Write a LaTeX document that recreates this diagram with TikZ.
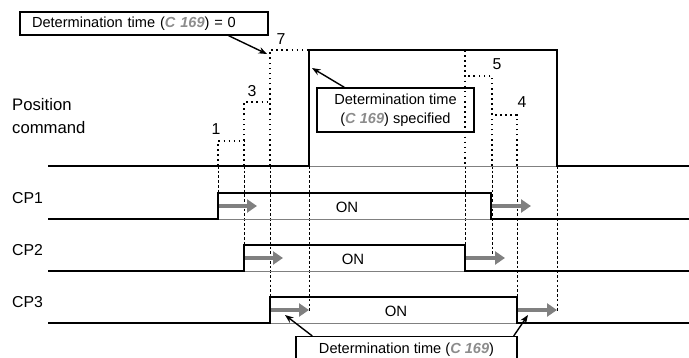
\documentclass[tikz,border=0pt]{standalone}
\usepackage{fontspec}
\setmainfont{Liberation Sans}
\usetikzlibrary{arrows.meta}
\definecolor{segcol}{gray}{0.55}
\definecolor{shiftcol}{gray}{0.5}
\newcommand{\segc}{{\color{segcol}\bfseries\itshape C 169}}
\begin{document}
\begin{tikzpicture}[x=0.02cm,y=-0.02cm,
   sig/.style={line width=1.2pt},
   sigbase/.style={shiftcol,line width=0.5pt},
   guide/.style={line width=0.4pt,dash pattern=on 1.5pt off 1.2pt},
   stepline/.style={line width=0.9pt,dotted},
   shiftarrow/.style={shiftcol,line width=2.8pt,-{Triangle[length=0.2cm,width=0.26cm]}},
   notebox/.style={draw,line width=0.8pt,inner sep=0pt,font=\fontsize{8.3}{11}\selectfont},
   pointer/.style={line width=0.8pt,-{Stealth[length=0.17cm,width=0.13cm]}},
   lbl/.style={font=\fontsize{9}{11}\selectfont}]
   \useasboundingbox (0,0) rectangle (689,358);
   % guides from the command edges down to the outputs
   \foreach \x/\e in {218/193, 244/245, 270/297, 309/312, 465/245, 492/256, 517/297, 557/312}
     \draw[guide] (\x,166) -- (\x,\e);
   % position command
   \draw[sigbase] (309,166) -- (557,166);
   \draw[sig] (48,166) -- (309,166) -- (309,50) -- (557,50) -- (557,166) -- (689,166);
   \foreach \a/\b/\h in {218/244/141, 244/270/102, 270/309/50}
     \draw[stepline] (\a,166) |- (\b,\h);
   \foreach \a/\b/\h in {465/492/76, 492/517/115}
     \draw[stepline] (\b,166) |- (\a,\h);
   \draw[stepline] (465,50) -- (465,166);
   \foreach \n/\x/\y in {1/216/129, 3/252/91, 7/281/39, 5/497/64, 4/522/102}
     \node[lbl] (n\n) at (\x,\y) {\n};
   \node[anchor=west,align=left,font=\fontsize{9.5}{13}\selectfont] (pos) at (6,116) {Position\\command};
   % outputs
   \foreach \n/\y/\r/\f/\o in {1/219/218/491/347, 2/271/244/465/353, 3/323/270/517/396}
   {
     \draw[sigbase] (\r,\y) -- (\f,\y);
     \draw[sig] (48,\y) -- (\r,\y) -- (\r,\y-26) -- (\f,\y-26) -- (\f,\y) -- (689,\y);
     \draw[shiftarrow] (\r+1,\y-13) -- (\r+39,\y-13);
     \draw[shiftarrow] (\f+1,\y-13) -- (\f+40,\y-13);
     \node[anchor=west,lbl] (cp\n) at (6,\y-21) {CP\n};
     \node[font=\fontsize{8.5}{10}\selectfont] (on\n) at (\o,\y-12) {ON};
   }
   % notes
   \node[notebox,minimum width=4.96cm,minimum height=0.46cm,text width=4.48cm,align=left,inner xsep=0.24cm]
     (box0) at (144,23.5) {Determination time (\segc) = 0};
   \node[notebox,minimum width=3.14cm,minimum height=0.88cm,align=center]
     (box1) at (395.5,110) {Determination time\\(\segc) specified};
   \node[notebox,minimum width=4.42cm,minimum height=0.52cm,anchor=north]
     (box2) at (406.5,336) {Determination time (\segc)};
   \coordinate (t7) at (267,54);
   \coordinate (trise) at (312,68);
   \coordinate (ton) at (285,315);
   \coordinate (toff) at (528,315);
   \draw[pointer] ([xshift=-0.8cm]box0.south east) -- (t7);
   \draw[pointer] ([xshift=0.56cm]box1.north west) -- (trise);
   \draw[pointer] ([xshift=0.34cm]box2.north west) -- (ton);
   \draw[pointer] ([xshift=-0.08cm]box2.north east) -- (toff);
\end{tikzpicture}
\end{document}
